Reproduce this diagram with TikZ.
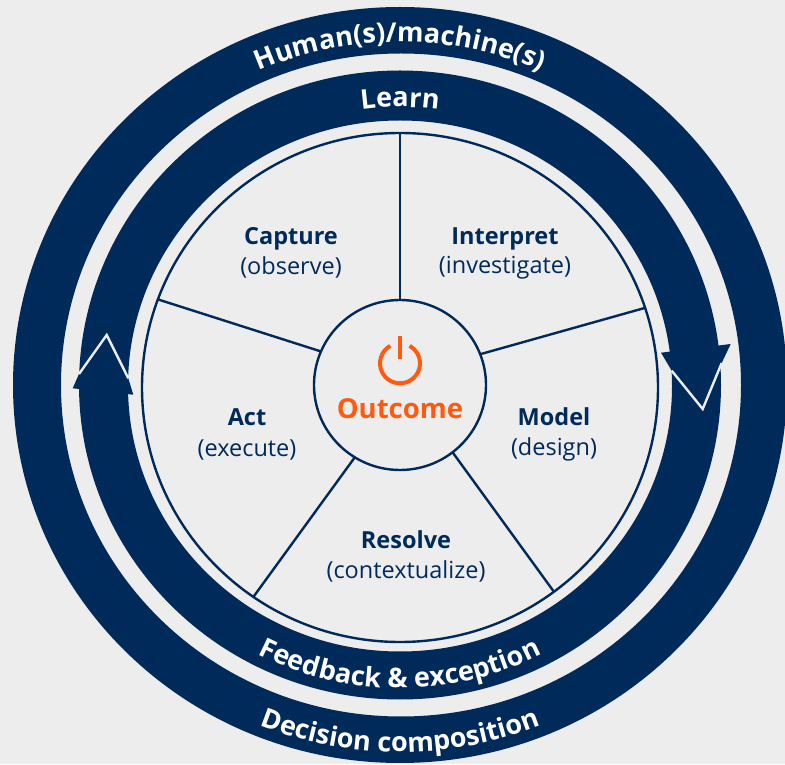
\documentclass[tikz,border=0pt]{standalone}
\usepackage{fontspec}
\setmainfont{Open Sans}
\usetikzlibrary{shapes.geometric,decorations.text}
\definecolor{navy}{HTML}{002A5A}
\definecolor{paper}{HTML}{EDEDED}
\definecolor{flame}{HTML}{FF5A10}
\tikzset{
  x=1pt,y=1pt,
  wheel/.style={ellipse,draw=navy,line width=2.4pt,fill=paper,inner sep=0pt,outer sep=0pt},
  spoke/.style={draw=navy,line width=2.4pt},
  head/.style={font=\fontsize{23.5}{24}\selectfont\bfseries,text=navy,inner sep=0pt,anchor=center},
  sub/.style={font=\fontsize{23.5}{24}\selectfont,text=navy,inner sep=0pt,anchor=center},
  edge/.style={draw=paper,line width=2.4pt,line join=miter},
  bent/.style={decorate,decoration={text along path,text align=center,text={#1}}}
}
\newcommand{\ringfont}{\fontsize{27}{28}\selectfont\bfseries\color{white}}
\begin{document}
\begin{tikzpicture}
\useasboundingbox (0,0) rectangle (785,764);
\clip (0,0) rectangle (785,764);
\fill[paper] (0,0) rectangle (785,764);
% rings
\fill[navy,even odd rule] (400,379) ellipse[x radius=387,y radius=378] (401,379) ellipse[x radius=340,y radius=331.5];
\fill[navy,even odd rule] (400,379) ellipse[x radius=321,y radius=314.5] (400,378) ellipse[x radius=272,y radius=265.5];
% arrowheads
\fill[navy] (72.7,375.7) -- (133.3,369.3) -- (128.3,385.7) -- (106.7,429) -- (79,390) -- cycle;
\draw[edge] (79,390) -- (106.7,429) -- (128.3,385.7);
\fill[navy] (661,411.3) -- (730.7,420) -- (721.7,401) -- (702.7,355) -- (671.7,393.3) -- cycle;
\draw[edge] (671.7,393.3) -- (702.7,355) -- (721.7,401);
% wheel
\node[wheel,minimum width=516,minimum height=509] (rim) at (400,376.5) {};
\node[wheel,minimum width=172,minimum height=170] (hub) at (400,379) {};
\draw[spoke] (rim.90) -- (hub.90);
\draw[spoke] (rim.160.5) -- (hub.157);
\draw[spoke] (rim.18.9) -- (hub.21.8);
\draw[spoke] (rim.235) -- (hub.238.3);
\draw[spoke] (rim.307.2) -- (hub.308.3);
% ring labels
\path[bent={|\ringfont|Human(s)/machine(s)}] (400,379) ++(150:350 and 343) arc[start angle=150,end angle=30,x radius=350,y radius=343];
\path[bent={|\ringfont|Learn}] (400,379) ++(130:285 and 278) arc[start angle=130,end angle=50,x radius=285,y radius=278];
\path[bent={|\ringfont|Feedback {\&} exception}] (400,379) ++(210:309 and 303) arc[start angle=210,end angle=330,x radius=309,y radius=303];
\path[bent={|\ringfont|Decision composition}] (400,379) ++(215:374 and 367) arc[start angle=215,end angle=325,x radius=374,y radius=367];
% segment labels
\node[head] (capture) at (291,525.5) {Capture};
\node[sub] (observe) at (291,496.5) {(observe)};
\node[head] (interpret) at (505,525.5) {Interpret};
\node[sub] (investigate) at (505,496.5) {(investigate)};
\node[head] (act) at (247,346.5) {Act};
\node[sub] (execute) at (247,314.5) {(execute)};
\node[head] (model) at (554,347) {Model};
\node[sub] (design) at (554,314.5) {(design)};
\node[head] (resolve) at (406,224) {Resolve};
\node[sub] (contextualize) at (406,192.5) {(contextualize)};
% hub
\node[font=\fontsize{27.5}{28}\selectfont\bfseries,text=flame,inner sep=0pt] (outcome) at (400,355.5) {Outcome};
\draw[flame,line width=4pt] (400,400.7) ++(119:20) arc[start angle=119,end angle=421,radius=20];
\draw[flame,line width=4pt] (399.7,428) -- (399.7,405);
\end{tikzpicture}
\end{document}
